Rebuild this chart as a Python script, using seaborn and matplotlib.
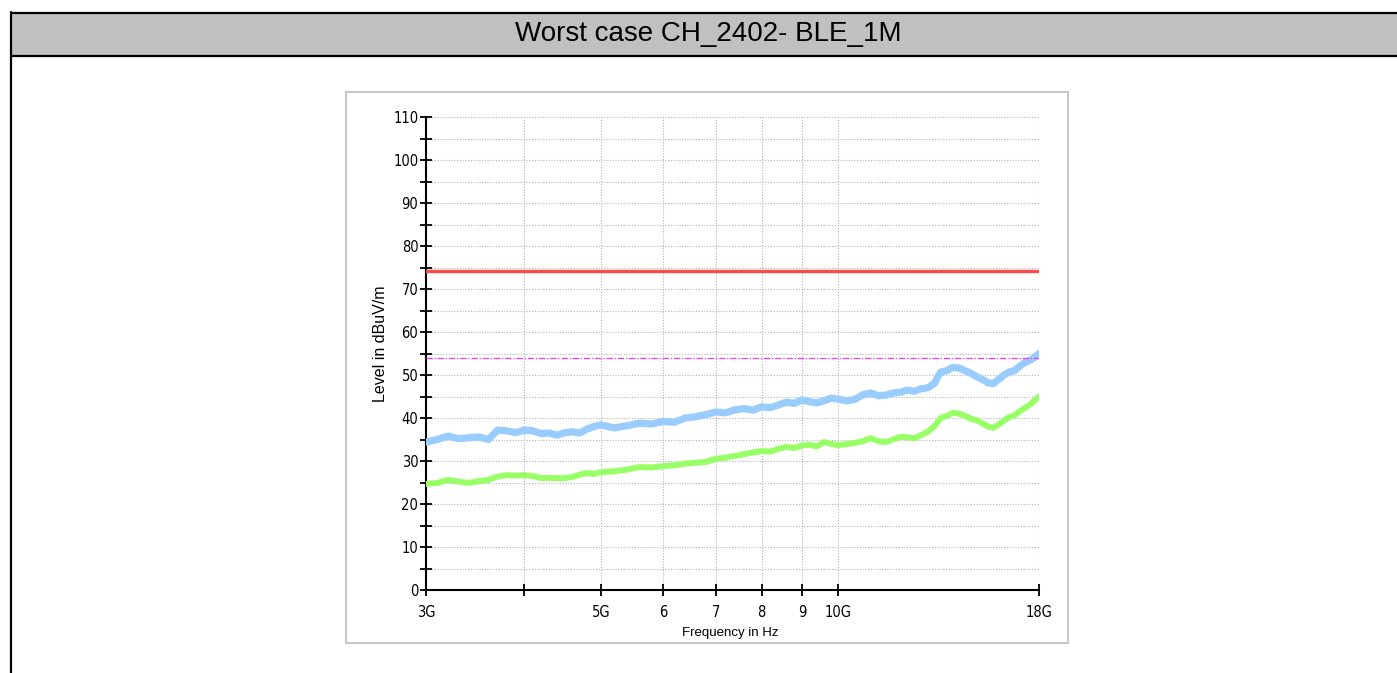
import numpy as np
import pandas as pd
import matplotlib
matplotlib.use("Agg")
import matplotlib.pyplot as plt
import seaborn as sns
from matplotlib.patches import Rectangle
from matplotlib.lines import Line2D
from matplotlib.ticker import FixedLocator, NullFormatter

# ---------------- data ----------------
title = "Worst case CH_2402- BLE_1M"
freq_ghz = [3.0, 3.1, 3.2, 3.3, 3.4, 3.5, 3.6, 3.7, 3.8, 3.9,
            4.0, 4.1, 4.2, 4.3, 4.4, 4.5, 4.6, 4.7, 4.8, 4.9,
            5.0, 5.2, 5.4, 5.6, 5.8, 6.0, 6.2, 6.4, 6.6, 6.8,
            7.0, 7.2, 7.4, 7.6, 7.8, 8.0, 8.2, 8.4, 8.6, 8.8,
            9.0, 9.2, 9.4, 9.6, 9.8, 10.0, 10.25, 10.5, 10.75, 11.0,
            11.25, 11.5, 11.75, 12.0, 12.25, 12.5, 12.75, 13.0, 13.25, 13.5,
            13.75, 14.0, 14.25, 14.5, 14.75, 15.0, 15.25, 15.5, 15.75, 16.0,
            16.25, 16.5, 16.75, 17.0, 17.25, 17.5, 17.75, 18.0]
peak_level = [34.4, 35.0, 35.8, 35.2, 35.4, 35.6, 35.0, 37.2, 37.0, 36.6,
              37.2, 37.0, 36.4, 36.5, 36.0, 36.6, 36.8, 36.5, 37.4, 38.0,
              38.4, 37.7, 38.2, 38.8, 38.6, 39.2, 39.0, 40.0, 40.3, 40.8,
              41.4, 41.2, 41.9, 42.2, 41.8, 42.6, 42.4, 43.0, 43.7, 43.4,
              44.2, 43.8, 43.5, 44.0, 44.6, 44.4, 44.0, 44.3, 45.4, 45.8,
              45.2, 45.3, 45.8, 46.0, 46.5, 46.2, 46.8, 47.0, 48.0, 50.7,
              51.0, 51.8, 51.6, 51.0, 50.4, 49.6, 49.0, 48.2, 48.0, 49.0,
              50.0, 50.7, 51.0, 52.0, 52.8, 53.4, 54.0, 55.0]
avg_level = [24.7, 24.9, 25.6, 25.2, 24.9, 25.3, 25.6, 26.4, 26.7, 26.6,
             26.7, 26.5, 26.0, 26.1, 26.0, 26.0, 26.3, 26.8, 27.2, 27.0,
             27.4, 27.6, 28.0, 28.6, 28.5, 28.8, 29.0, 29.4, 29.6, 29.8,
             30.5, 30.8, 31.2, 31.6, 32.0, 32.3, 32.2, 32.8, 33.3, 33.0,
             33.6, 33.8, 33.4, 34.4, 34.0, 33.7, 33.9, 34.2, 34.6, 35.3,
             34.6, 34.4, 35.0, 35.6, 35.5, 35.3, 36.0, 36.8, 38.0, 40.0,
             40.5, 41.2, 41.0, 40.5, 39.8, 39.5, 38.8, 38.0, 37.7, 38.5,
             39.4, 40.2, 40.6, 41.5, 42.3, 43.0, 44.0, 45.0]
peak_limit = 74.2
avg_limit = 54.0
x_ticks_ghz = [3, 4, 5, 6, 7, 8, 9, 10, 18]
x_tick_labels = ["3G", "", "5G", "6", "7", "8", "9", "10G", "18G"]
y_major = list(range(0, 111, 10))
y_minor = list(range(5, 110, 10))

df = pd.DataFrame({"freq": freq_ghz, "peak": peak_level, "avg": avg_level})

# ---------------- style ----------------
sns.set_theme(style="white")
plt.rcParams["font.family"] = ["Liberation Sans", "DejaVu Sans"]

W, H = 1397, 673
fig = plt.figure(figsize=(W / 100, H / 100), dpi=100)
fig.patch.set_facecolor("white")

# header bar
fig.add_artist(Rectangle((11 / W, 1 - 55 / H), (W - 11) / W, 42 / H,
                         transform=fig.transFigure, facecolor="#c0c0c0",
                         edgecolor="none", zorder=0))
for yy in (12.5, 55.5):
    fig.add_artist(Line2D([10.5 / W, 1], [1 - yy / H, 1 - yy / H],
                          transform=fig.transFigure, color="black", lw=1.6))
fig.add_artist(Line2D([11 / W, 11 / W], [0, 1 - 12 / H],
                      transform=fig.transFigure, color="black", lw=1.6))
fig.text(708 / W, 1 - 34 / H, title, ha="center", va="center",
         fontsize=20, color="black")

# inner panel frame
fig.add_artist(Rectangle((346 / W, 1 - 643 / H), (1068 - 346) / W, (643 - 92) / H,
                         transform=fig.transFigure, facecolor="white",
                         edgecolor="#c8c8c8", lw=1.5, zorder=0))

ax = fig.add_axes([426 / W, 1 - 590 / H, (1039 - 426) / W, (590 - 117) / H])
ax.set_facecolor("none")

sns.lineplot(data=df, x="freq", y="peak", ax=ax, color="#99ccff", lw=5.2,
             zorder=3, legend=False)
sns.lineplot(data=df, x="freq", y="avg", ax=ax, color="#99ff66", lw=4.3,
             zorder=3, legend=False)
ax.axhline(peak_limit, color="#ff4a4a", lw=2.4, zorder=4)
ax.axhline(avg_limit, color="#ff33ff", lw=0.9, ls=(0, (5, 1.5, 1, 1.5)), zorder=4)

ax.set_xscale("log")
ax.set_xlim(3, 18)
ax.set_ylim(0, 110)

ax.xaxis.set_major_locator(FixedLocator(x_ticks_ghz))
ax.set_xticklabels(x_tick_labels)
ax.xaxis.set_minor_locator(FixedLocator([]))
ax.xaxis.set_minor_formatter(NullFormatter())
ax.yaxis.set_major_locator(FixedLocator(y_major))
ax.yaxis.set_minor_locator(FixedLocator(y_minor))
ax.set_yticklabels([str(v) for v in y_major])

ax.grid(True, which="major", axis="x", color="#b4b4b4", ls=(0, (1, 1.5)), lw=0.8)
ax.grid(True, which="both", axis="y", color="#b4b4b4", ls=(0, (1, 1.5)), lw=0.8)

for s in ("top", "right"):
    ax.spines[s].set_visible(False)
for s in ("left", "bottom"):
    ax.spines[s].set_visible(True)
    ax.spines[s].set_color("black")
    ax.spines[s].set_linewidth(1.5)

ax.tick_params(axis="both", which="both", direction="inout", colors="black",
               labelsize=10.5, width=1.3)
ax.tick_params(axis="y", which="both", length=9, pad=1, left=True)
ax.tick_params(axis="x", which="major", length=9, pad=6, bottom=True)
for lab in ax.get_xticklabels() + ax.get_yticklabels():
    lab.set_family(["DejaVu Sans"])
    lab.set_stretch("condensed")
    lab.set_fontsize(10.5)

ax.set_xlabel("Frequency in Hz", fontsize=9.5, color="black")
ax.set_ylabel("Level in dBuV/m", fontsize=11.5, color="black")
ax.xaxis.set_label_coords((730 - 426) / 613, -(633 - 590) / 473)
ax.yaxis.set_label_coords((381 - 426) / 613, (590 - 344) / 473)
ax.xaxis.label.set_va("center")
ax.yaxis.label.set_va("center")

fig.savefig("out.png", dpi=100)
